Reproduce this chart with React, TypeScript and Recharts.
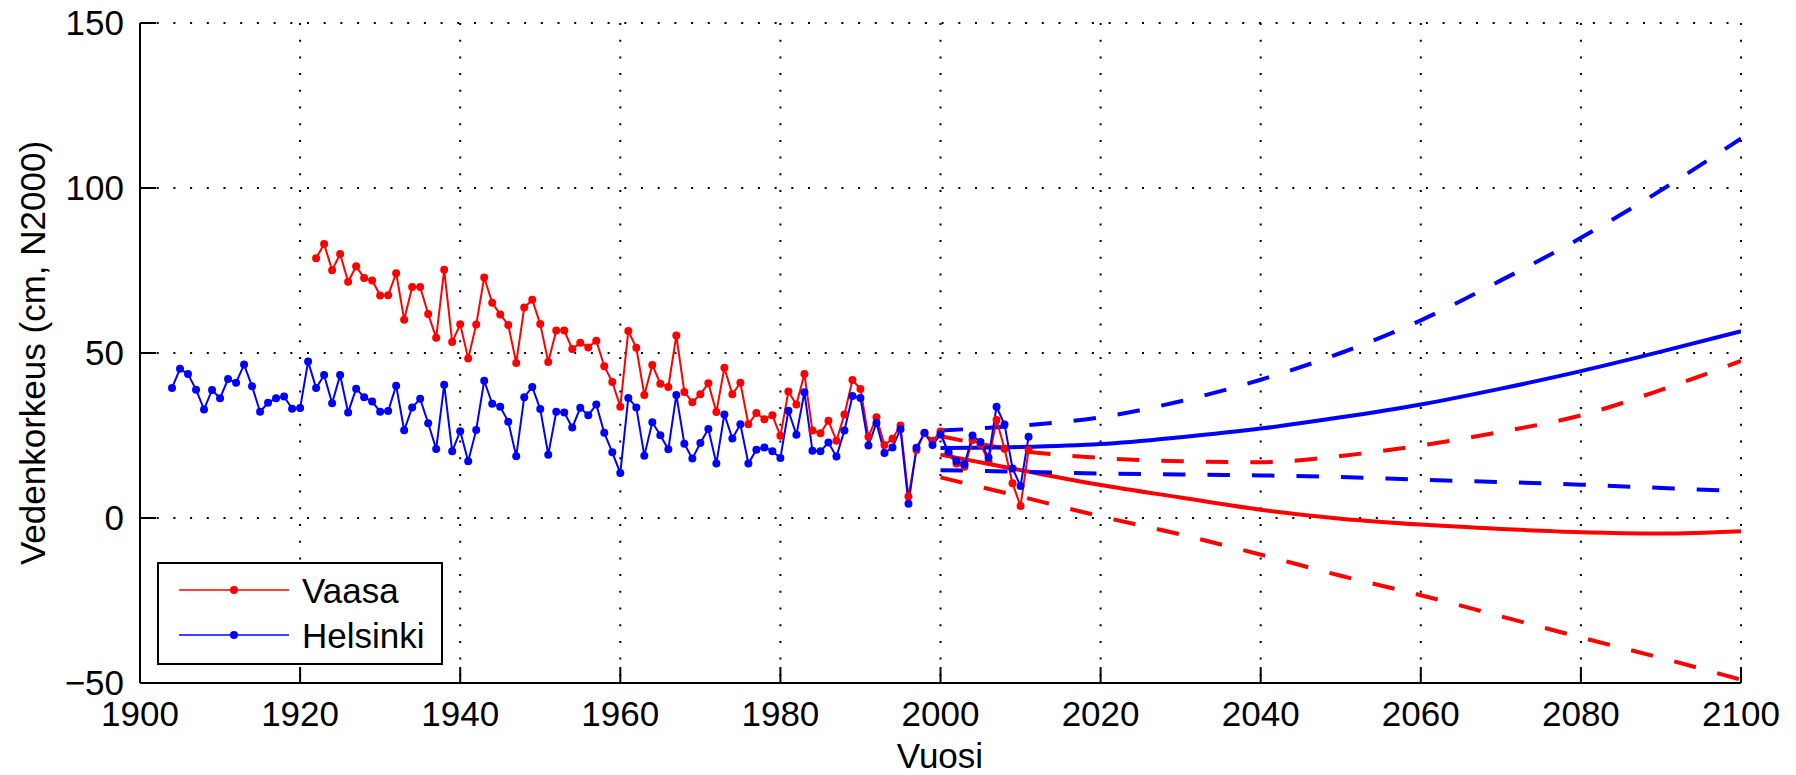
import { LineChart, Line, XAxis, YAxis, CartesianGrid, Legend } from "recharts";

// Annual mean water level (cm, N2000)
const helsinkiStart = 1904;
const helsinkiLevels = [
  39.4, 45.2, 43.6, 38.9, 32.9, 38.8, 36.3, 42.1, 41.0, 46.5,
  39.9, 32.2, 34.9, 36.3, 36.8, 33.1, 33.3, 47.4, 39.4, 43.3,
  34.8, 43.3, 32.0, 39.2, 36.6, 35.3, 32.2, 32.4, 40.1, 26.6,
  33.5, 36.1, 28.7, 20.9, 40.4, 20.2, 26.3, 17.2, 26.7, 41.6,
  34.6, 33.7, 29.2, 18.7, 36.6, 39.7, 33.0, 19.2, 32.2, 32.0,
  27.4, 33.4, 31.1, 34.4, 25.8, 19.9, 13.6, 36.4, 33.5, 18.9,
  29.0, 25.1, 20.8, 37.3, 22.5, 18.0, 22.7, 27.0, 16.5, 31.4,
  24.1, 28.4, 16.5, 20.7, 21.4, 20.2, 18.2, 32.5, 25.2, 38.1,
  20.4, 20.2, 22.9, 18.6, 26.5, 37.0, 36.4, 22.0, 28.8, 19.7,
  21.4, 26.9, 4.3, 21.3, 25.8, 22.1, 25.3, 20.0, 17.3, 16.3,
  25.0, 23.0, 18.3, 33.7, 28.3, 15.0, 9.7, 24.6,
];

const vaasaStart = 1922;
const vaasaLevels = [
  78.7, 83.0, 75.1, 80.0, 71.6, 76.3, 72.7, 72.0, 67.4, 67.5,
  74.2, 60.1, 70.0, 70.0, 61.8, 54.6, 75.2, 53.3, 58.7, 48.3,
  58.6, 72.9, 65.2, 61.7, 58.5, 47.0, 63.8, 66.1, 58.8, 47.3,
  56.8, 56.8, 51.2, 53.1, 51.7, 53.7, 46.0, 41.2, 33.7, 56.7,
  51.6, 37.3, 46.4, 40.7, 39.7, 55.3, 38.2, 35.1, 37.5, 40.8,
  32.1, 45.5, 37.5, 41.0, 28.4, 31.8, 29.9, 31.1, 24.9, 38.3,
  34.4, 43.6, 26.5, 25.7, 29.5, 23.4, 31.4, 41.8, 39.1, 24.6,
  30.5, 22.1, 24.0, 28.0, 6.5, 20.6, 25.7, 23.4, 26.2, 19.4,
  16.5, 15.5, 23.6, 22.3, 17.1, 29.7, 21.0, 10.5, 3.6, 20.6,
];

// Scenarios 2000-2100
const projYears = [2000, 2010, 2020, 2030, 2040, 2050, 2060, 2070, 2080, 2090, 2100];
const helsinkiMid = [21.2, 21.5, 22.4, 24.5, 27.1, 30.5, 34.4, 39.2, 44.5, 50.4, 56.6];
const helsinkiHigh = [26.5, 28.0, 30.5, 35.4, 41.9, 50.0, 59.9, 72.0, 84.9, 99.3, 115.0];
const helsinkiLow = [14.5, 14.0, 13.5, 13.2, 12.9, 12.4, 11.6, 10.9, 10.1, 9.1, 8.1];
const vaasaMid = [19.2, 14.5, 10.0, 6.2, 2.5, -0.2, -2.0, -3.3, -4.3, -4.7, -4.0];
const vaasaHigh = [24.8, 20.4, 18.2, 17.2, 16.9, 18.8, 22.0, 26.1, 31.1, 38.8, 47.6];
const vaasaLow = [12.3, 6.5, 0.5, -5.0, -11.1, -17.5, -23.4, -29.8, -36.2, -42.4, -49.0];

const xTicks = [1900, 1920, 1940, 1960, 1980, 2000, 2020, 2040, 2060, 2080, 2100];
const yTicks = [-50, 0, 50, 100, 150];

const RED = "#ff0000";
const BLUE = "#0000ff";
const FONT = "'Liberation Sans', Arial, Helvetica, sans-serif";
const FS = 35;
const TICK = 16;
const DASH = "22.5 22";

const observed = (start: number, values: number[]) =>
  values.map((v, i) => ({ year: start + i, level: v }));
const scenario = (values: number[]) =>
  projYears.map((yr, i) => ({ year: yr, level: values[i] }));

const fmt = (v: number) => (v < 0 ? `\u2212${Math.abs(v)}` : `${v}`);

function BottomTick({ x, y, payload }: any) {
  const axisY = y - 18;
  return (
    <g>
      <line x1={x} x2={x} y1={axisY} y2={axisY - TICK} stroke="#000" strokeWidth={2} />
      <text x={x} y={y} dy="0.71em" textAnchor="middle" fontSize={FS} fontFamily={FONT} fill="#000">
        {fmt(payload.value)}
      </text>
    </g>
  );
}

function TopTick({ x, y }: any) {
  return <line x1={x} x2={x} y1={y} y2={y + TICK} stroke="#000" strokeWidth={2} />;
}

function LeftTick({ x, y, payload }: any) {
  const axisX = x + 16;
  return (
    <g>
      <line x1={axisX} x2={axisX + TICK} y1={y} y2={y} stroke="#000" strokeWidth={2} />
      <text x={x} y={y} dy="0.355em" textAnchor="end" fontSize={FS} fontFamily={FONT} fill="#000">
        {fmt(payload.value)}
      </text>
    </g>
  );
}

function RightTick({ x, y }: any) {
  return <line x1={x} x2={x - TICK} y1={y} y2={y} stroke="#000" strokeWidth={2} />;
}

function LegendBox() {
  const rows = [
    { name: "Vaasa", color: RED },
    { name: "Helsinki", color: BLUE },
  ];
  return (
    <svg width={286} height={103} style={{ display: "block" }}>
      <rect x={1} y={1} width={284} height={101} fill="#fff" stroke="#000" strokeWidth={2} />
      {rows.map((r, i) => {
        const cy = 28 + i * 45;
        return (
          <g key={r.name}>
            <line x1={22} x2={132} y1={cy} y2={cy} stroke={r.color} strokeWidth={1.5} />
            <circle cx={77} cy={cy} r={4} fill={r.color} />
            <text x={145} y={cy} dy="0.36em" fontSize={FS} fontFamily={FONT} fill="#000">
              {r.name}
            </text>
          </g>
        );
      })}
    </svg>
  );
}

const axisLine = { stroke: "#000", strokeWidth: 2 };

export default function App() {
  return (
    <div style={{ width: 1796, height: 775, background: "#fff" }}>
      <style>{"body{margin:0;background:#fff}"}</style>
      <LineChart width={1796} height={775} margin={{ top: 23, right: 55, bottom: 12, left: 10 }}>
        <CartesianGrid stroke="#000" strokeWidth={2} strokeDasharray="2 14.7" />
        <XAxis
          dataKey="year"
          type="number"
          domain={[1900, 2100]}
          ticks={xTicks}
          allowDataOverflow
          height={80}
          axisLine={axisLine}
          tickLine={false}
          tickSize={0}
          tickMargin={18}
          tick={<BottomTick />}
          interval={0}
          label={{
            content: () => (
              <text x={940} y={768} textAnchor="middle" fontSize={FS} fontFamily={FONT} fill="#000">
                Vuosi
              </text>
            ),
          }}
        />
        <XAxis
          xAxisId="top"
          orientation="top"
          dataKey="year"
          type="number"
          domain={[1900, 2100]}
          ticks={xTicks}
          allowDataOverflow
          height={0}
          axisLine={axisLine}
          tickLine={false}
          tickSize={0}
          tickMargin={0}
          tick={<TopTick />}
          interval={0}
        />
        <YAxis
          type="number"
          domain={[-50, 150]}
          ticks={yTicks}
          allowDataOverflow
          width={130}
          axisLine={axisLine}
          tickLine={false}
          tickSize={0}
          tickMargin={16}
          tick={<LeftTick />}
          interval={0}
          label={{
            content: () => (
              <text
                x={45}
                y={353}
                transform="rotate(-90 45 353)"
                textAnchor="middle"
                fontSize={FS}
                fontFamily={FONT}
                fill="#000"
              >
                Vedenkorkeus (cm, N2000)
              </text>
            ),
          }}
        />
        <YAxis
          yAxisId="right"
          orientation="right"
          type="number"
          domain={[-50, 150]}
          ticks={yTicks}
          allowDataOverflow
          width={0}
          axisLine={axisLine}
          tickLine={false}
          tickSize={0}
          tickMargin={0}
          tick={<RightTick />}
          interval={0}
        />
        <Legend
          layout="vertical"
          align="center"
          verticalAlign="middle"
          wrapperStyle={{ left: 157, top: 562, width: 286, height: 103 }}
          content={() => <LegendBox />}
        />

        <Line data={scenario(vaasaHigh)} dataKey="level" type="monotone" stroke={RED} strokeWidth={4} strokeDasharray={DASH} dot={false} activeDot={false} isAnimationActive={false} />
        <Line data={scenario(vaasaMid)} dataKey="level" type="monotone" stroke={RED} strokeWidth={4} dot={false} activeDot={false} isAnimationActive={false} />
        <Line data={scenario(vaasaLow)} dataKey="level" type="monotone" stroke={RED} strokeWidth={4} strokeDasharray={DASH} dot={false} activeDot={false} isAnimationActive={false} />
        <Line data={scenario(helsinkiHigh)} dataKey="level" type="monotone" stroke={BLUE} strokeWidth={4} strokeDasharray={DASH} dot={false} activeDot={false} isAnimationActive={false} />
        <Line data={scenario(helsinkiMid)} dataKey="level" type="monotone" stroke={BLUE} strokeWidth={4} dot={false} activeDot={false} isAnimationActive={false} />
        <Line data={scenario(helsinkiLow)} dataKey="level" type="monotone" stroke={BLUE} strokeWidth={4} strokeDasharray={DASH} dot={false} activeDot={false} isAnimationActive={false} />

        <Line
          name="Vaasa"
          data={observed(vaasaStart, vaasaLevels)}
          dataKey="level"
          type="linear"
          stroke={RED}
          strokeWidth={2}
          dot={{ r: 4, fill: RED, stroke: RED, strokeWidth: 0 }}
          activeDot={false}
          isAnimationActive={false}
        />
        <Line
          name="Helsinki"
          data={observed(helsinkiStart, helsinkiLevels)}
          dataKey="level"
          type="linear"
          stroke={BLUE}
          strokeWidth={2}
          dot={{ r: 4, fill: BLUE, stroke: BLUE, strokeWidth: 0 }}
          activeDot={false}
          isAnimationActive={false}
        />
      </LineChart>
    </div>
  );
}
